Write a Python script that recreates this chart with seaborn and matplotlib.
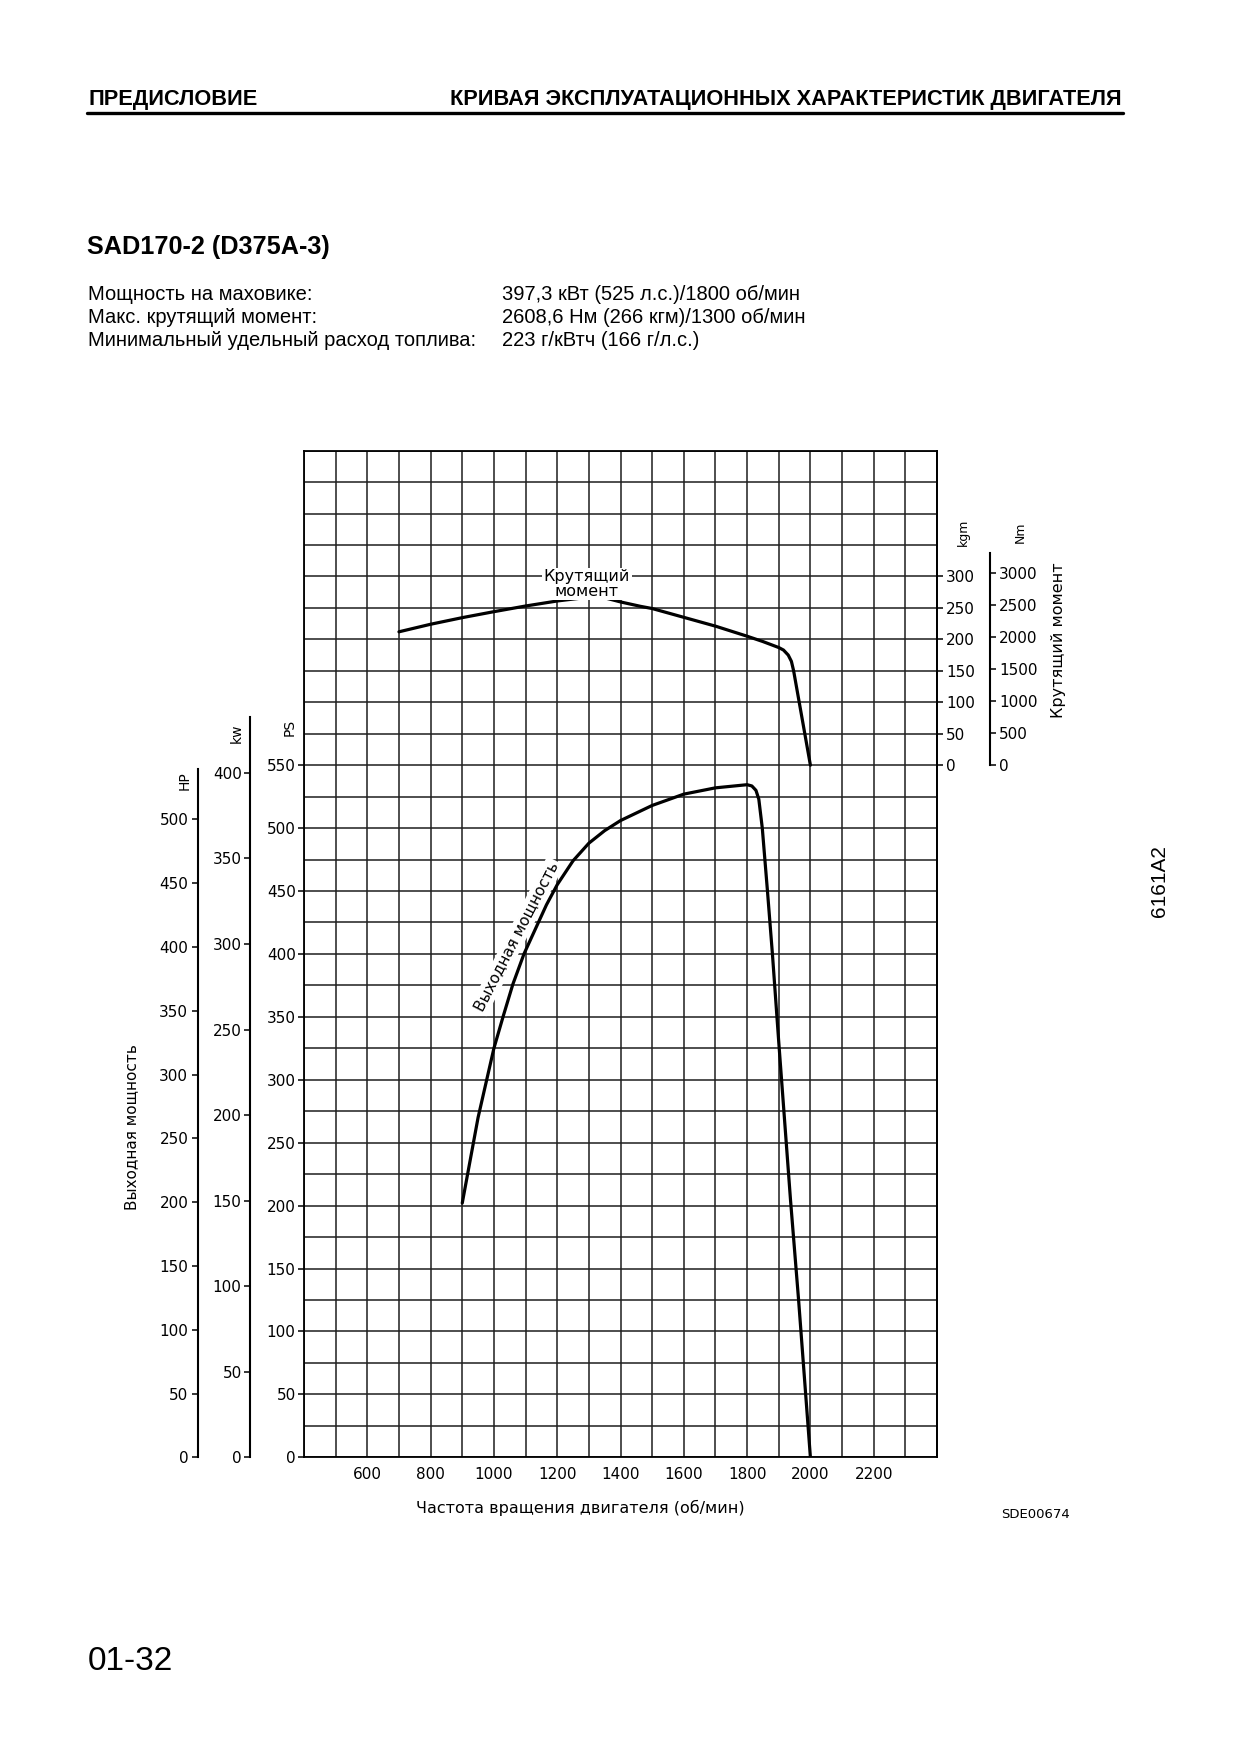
import numpy as np
import matplotlib.pyplot as plt
import seaborn as sns

# данные
power_rpm = [900, 950, 1000, 1030, 1060, 1095, 1166, 1200, 1250, 1300, 1350, 1400, 1500,
             1600, 1700, 1800, 1815, 1828, 1837, 1848, 1864, 1880, 1900, 1937, 1963, 2000]
power_ps = [202, 270, 325, 351, 376, 400, 439, 455, 474, 488, 498, 506, 518,
            527, 532, 534.5, 533.5, 530, 523, 500, 451, 400, 330, 205, 124, 0]

torque_rpm = [700, 800, 900, 1000, 1100, 1200, 1300, 1350, 1400, 1463, 1500, 1600,
              1700, 1800, 1850, 1900, 1915, 1930, 1940, 1947, 2000]
torque_kgm = [212, 224, 234.5, 244, 253, 261, 267, 266, 259.5, 252.5, 249, 235,
              221, 205, 196.5, 187, 183, 175, 165, 150, 0]

rpm_ticks = [600, 800, 1000, 1200, 1400, 1600, 1800, 2000, 2200]
ps_ticks = list(range(0, 551, 50))
kw_ticks = list(range(0, 401, 50))
hp_ticks = list(range(0, 501, 50))
kgm_ticks = list(range(0, 301, 50))
nm_ticks = list(range(0, 3001, 500))

spec_names = ["Мощность на маховике:", "Макс. крутящий момент:",
              "Минимальный удельный расход топлива:"]
spec_values = ["397,3 кВт (525 л.с.)/1800 об/мин", "2608,6 Нм (266 кгм)/1300 об/мин",
               "223 г/кВтч (166 г/л.с.)"]

sns.set_theme(style="ticks", rc={"text.color": "black", "xtick.color": "black",
                                 "ytick.color": "black", "axes.edgecolor": "black"})
plt.rcParams["font.family"] = ["DejaVu Sans"]
LIB = ["Liberation Sans", "DejaVu Sans"]

W, H = 1240, 1754


def fx(px):
    return px / W


def fy(py):
    return 1 - py / H


fig = plt.figure(figsize=(W / 100, H / 100), dpi=100)

# сетка (ось PS)
left, right, top, bottom = 304, 937, 450.6, 1457.3
ax = fig.add_axes([fx(left), fy(bottom), (right - left) / W, (bottom - top) / H])
sns.lineplot(x=power_rpm, y=power_ps, ax=ax, color="black", linewidth=2.3,
             estimator=None, sort=False, zorder=3)
ax.set_xlim(400, 2400)
ax.set_ylim(0, 800)
ax.set_xticks(rpm_ticks)
ax.set_xticks(np.arange(400, 2401, 100), minor=True)
ax.set_yticks(ps_ticks)
ax.set_yticks(np.arange(0, 801, 25), minor=True)
ax.set_axisbelow(True)
ax.grid(which="both", color="#1e1e1e", linewidth=1.1)
ax.tick_params(axis="x", which="both", length=0, pad=7, labelsize=11)
ax.tick_params(axis="y", which="major", left=True, length=4.5, width=1.1, pad=1.5, labelsize=11)
ax.tick_params(axis="y", which="minor", length=0)
for s in ax.spines.values():
    s.set_visible(True)
    s.set_linewidth(1.3)
ax.set_xlabel("")
ax.set_ylabel("")

ax.text(1072, 414, "Выходная мощность", rotation=62.7, ha="center", va="center",
        fontsize=11, rotation_mode="anchor", zorder=2.5,
        bbox=dict(facecolor="white", edgecolor="none", pad=1.5))

# дополнительные оси мощности: kW и HP
ax_kw = ax.secondary_yaxis((250 - left) / (right - left),
                           functions=(lambda p: p * 0.7355, lambda k: k / 0.7355))
ax_kw.set_yticks(kw_ticks)
ax_kw.spines["left"].set_bounds(0, 432.9)
ax_kw.spines["left"].set_linewidth(1.5)
ax_kw.tick_params(length=4.5, width=1.1, pad=1.5, labelsize=11)

ax_hp = ax.secondary_yaxis((198 - left) / (right - left),
                           functions=(lambda p: p * 0.98632, lambda h: h / 0.98632))
ax_hp.set_yticks(hp_ticks)
ax_hp.spines["left"].set_bounds(0, 539.3)
ax_hp.spines["left"].set_linewidth(1.5)
ax_hp.tick_params(length=4, width=1.1, pad=3, labelsize=11)

# крутящий момент (кгм)
axt = ax.twinx()
sns.lineplot(x=torque_rpm, y=torque_kgm, ax=axt, color="black", linewidth=2.3,
             estimator=None, sort=False, zorder=3)
axt.set_ylim(-1100, 500)
axt.set_yticks(kgm_ticks)
axt.set_ylabel("")
for name in ["left", "top", "bottom"]:
    axt.spines[name].set_visible(False)
axt.spines["right"].set_linewidth(1.3)
axt.tick_params(axis="y", right=True, length=4.5, width=1.1, pad=2, labelsize=11)
axt.text(1294, 288, "Крутящий\nмомент", ha="center", va="center", fontsize=11.5,
         linespacing=0.95, bbox=dict(facecolor="white", edgecolor="none", pad=1))

ax_nm = axt.secondary_yaxis((990 - left) / (right - left),
                            functions=(lambda k: k * 9.80665, lambda n: n / 9.80665))
ax_nm.set_yticks(nm_ticks)
ax_nm.spines["right"].set_bounds(0, 3300)
ax_nm.spines["right"].set_linewidth(1.5)
ax_nm.tick_params(length=4.5, width=1.1, pad=2, labelsize=11)

# подписи осей
fig.text(fx(185), fy(781), "HP", rotation=90, ha="center", va="center", fontsize=10)
fig.text(fx(237), fy(733), "kw", rotation=90, ha="center", va="center", fontsize=10)
fig.text(fx(290), fy(727), "PS", rotation=90, ha="center", va="center", fontsize=10)
fig.text(fx(963), fy(532), "kgm", rotation=90, ha="center", va="center", fontsize=9)
fig.text(fx(1020), fy(532), "Nm", rotation=90, ha="center", va="center", fontsize=9)
fig.text(fx(132), fy(1127), "Выходная мощность", rotation=90, ha="center", va="center",
         fontsize=11)
fig.text(fx(1059), fy(640), "Крутящий момент", rotation=90, ha="center", va="center",
         fontsize=11.5)
fig.text(fx(580), fy(1508), "Частота вращения двигателя (об/мин)", ha="center",
         va="center", fontsize=11.5)
fig.text(fx(1001), fy(1514), "SDE00674", ha="left", va="center", fontsize=9.5)

# шапка страницы
fig.text(fx(88), fy(99), "ПРЕДИСЛОВИЕ", ha="left", va="center", fontsize=15.7,
         weight="bold", family=LIB)
fig.text(fx(1122), fy(99), "КРИВАЯ ЭКСПЛУАТАЦИОННЫХ ХАРАКТЕРИСТИК ДВИГАТЕЛЯ",
         ha="right", va="center", fontsize=15.7, weight="bold", family=LIB)
fig.add_artist(plt.Line2D([fx(87), fx(1123)], [fy(113.3), fy(113.3)], color="black",
                          linewidth=2.4))
fig.text(fx(87), fy(247), "SAD170-2 (D375A-3)", ha="left", va="center", fontsize=18.2,
         weight="bold", family=LIB)
for i, (name, value) in enumerate(zip(spec_names, spec_values)):
    y = 294 + 23.5 * i
    fig.text(fx(88), fy(y), name, ha="left", va="center", fontsize=14.5, family=LIB)
    fig.text(fx(502), fy(y), value, ha="left", va="center", fontsize=14.5, family=LIB)

fig.text(fx(88), fy(1661), "01-32", ha="left", va="center", fontsize=24, family=LIB)
fig.text(fx(1160), fy(881), "6161A2", rotation=90, ha="center", va="center",
         fontsize=15, family=LIB)

fig.savefig("out.png", dpi=100)
